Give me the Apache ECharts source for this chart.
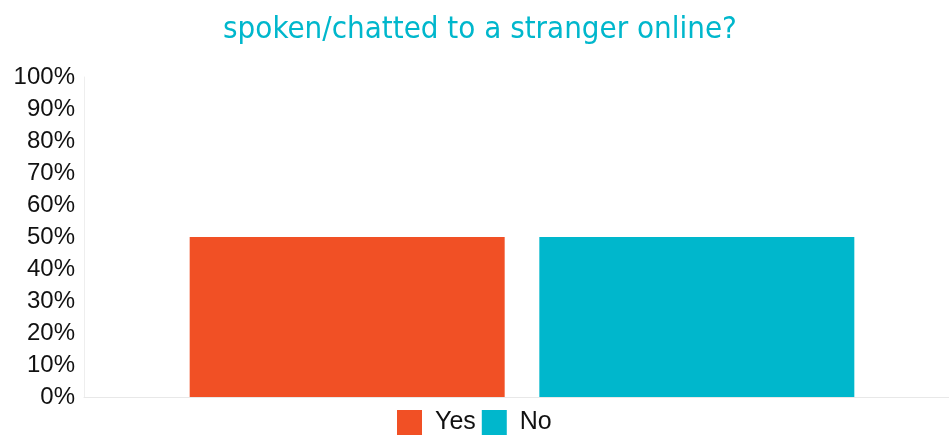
<!DOCTYPE html>
<html>
<head>
<meta charset="utf-8">
<script src="https://cdn.jsdelivr.net/npm/echarts@6/dist/echarts.min.js"></script>
<style>
  html, body { margin: 0; padding: 0; background: #fff; overflow: hidden; }
  #chart { width: 960px; height: 437px; }
</style>
</head>
<body>
<div id="chart"></div>
<script>
// 数据
var categories = [''];
var seriesNames = ['Yes', 'No'];
var yesValues = [50];
var noValues = [50];
var colors = ['#F15025', '#00B7CC'];

var myChart = echarts.init(document.getElementById('chart'));
var option = {
    backgroundColor: '#fff',
    title: {
        text: 'spoken/chatted to a stranger online?',
        left: 'center',
        top: 9,
        textStyle: {
            fontFamily: "'DejaVu Sans Condensed', 'Liberation Sans Narrow', 'Roboto Condensed', sans-serif",
            fontWeight: 'normal',
            fontSize: 31,
            color: '#00B7CC'
        }
    },
    legend: {
        data: seriesNames,
        top: 410,
        left: 397,
        padding: 0,
        itemWidth: 25,
        itemHeight: 25,
        itemGap: 6,
        icon: 'rect',
        textStyle: {
            fontFamily: 'Liberation Sans',
            fontSize: 25,
            color: '#111',
            padding: [0, 0, 0, 8]
        }
    },
    grid: {
        left: 84,
        right: 0,
        top: 77,
        bottom: 40
    },
    xAxis: {
        type: 'category',
        data: categories,
        axisLine: { lineStyle: { color: '#e8e8e8' } },
        axisTick: { show: false },
        axisLabel: { show: false }
    },
    yAxis: {
        type: 'value',
        min: 0,
        max: 100,
        interval: 10,
        axisLine: { show: true, lineStyle: { color: '#eeeeee' } },
        axisTick: { show: false },
        splitLine: { show: false },
        axisLabel: {
            formatter: '{value}%',
            fontFamily: 'Liberation Sans',
            fontSize: 24,
            color: '#111',
            margin: 9
        }
    },
    series: [
        {
            name: 'Yes',
            type: 'bar',
            color: colors[0],
            barWidth: 315,
            barGap: '11%',
            data: yesValues
        },
        {
            name: 'No',
            type: 'bar',
            color: colors[1],
            barWidth: 315,
            data: noValues
        }
    ]
};
myChart.setOption(option);
</script>
</body>
</html>
